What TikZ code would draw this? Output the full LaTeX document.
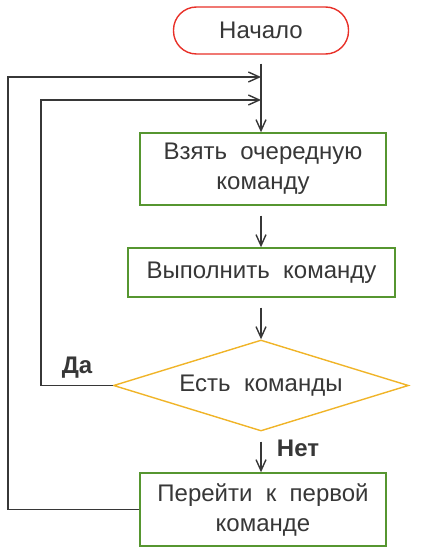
\documentclass[tikz,border=0pt]{standalone}
\usepackage{fontspec}
\setmainfont{Liberation Sans}
\usetikzlibrary{positioning,shapes.geometric,arrows.meta}

\definecolor{startred}{RGB}{232,48,40}
\definecolor{boxgreen}{RGB}{86,150,48}
\definecolor{condyellow}{RGB}{240,180,40}
\definecolor{lineclr}{RGB}{55,55,55}

\tikzset{
  startbox/.style={draw=startred,line width=1.4pt,rounded corners=23pt,
    minimum width=175pt,minimum height=47pt,text=lineclr,font=\fontsize{24}{28}\selectfont},
  actbox/.style={draw=boxgreen,line width=1.4pt,align=center,text=lineclr,
    font=\fontsize{24}{30}\selectfont},
  condbox/.style={diamond,draw=condyellow,line width=1.4pt,inner sep=0pt,aspect=3.24,
    minimum width=295pt,minimum height=91pt,text=lineclr,font=\fontsize{24}{28}\selectfont},
  flow/.style={draw=lineclr,line width=1.4pt,-{Straight Barb[length=11pt,width=10pt]}},
  answer/.style={font=\bfseries\fontsize{24}{28}\selectfont,text=lineclr}
}

\begin{document}
\begin{tikzpicture}[x=1pt,y=-1pt]
    \useasboundingbox (0,0) rectangle (420,556);
    \node[startbox] (start) at (261,30.5) {Начало};
    \node[actbox,minimum width=246pt,minimum height=72pt] (take) at (263,169) {Взять\ \ очередную\\команду};
    \node[actbox,minimum width=267pt,minimum height=49pt] (exec) at (261.5,272.5) {Выполнить\ \ команду};
    \node[condbox] (check) at (261,385.5) {Есть\ \ команды};
    \node[actbox,minimum width=246pt,minimum height=73pt] (jump) at (263,509.5) {Перейти\ \ к\ \ первой\\команде};
    \coordinate (outer) at (8,77);
    \coordinate (inner) at (41,100);
    \coordinate (joinA) at (261,77);
    \coordinate (joinB) at (261,100);
    \node[answer] (yes) at (77,368) {Да};
    \node[answer] (no) at (298,448) {Нет};
    % main line
    \draw[flow,shorten <=9pt] (start.south -| joinA) -- (take.north -| joinA);
    \draw[flow,shorten <=10pt] (take.south -| joinA) -- (exec.north -| joinA);
    \draw[flow,shorten <=10pt] (exec.south -| joinA) -- (check.north);
    \draw[flow,shorten <=10pt] (check.south) -- (jump.north -| joinA);
    % loops
    \draw[flow] (check.west) -| (inner) -- (joinB);
    \draw[flow] (jump.west) -| (outer) -- (joinA);
\end{tikzpicture}
\end{document}
